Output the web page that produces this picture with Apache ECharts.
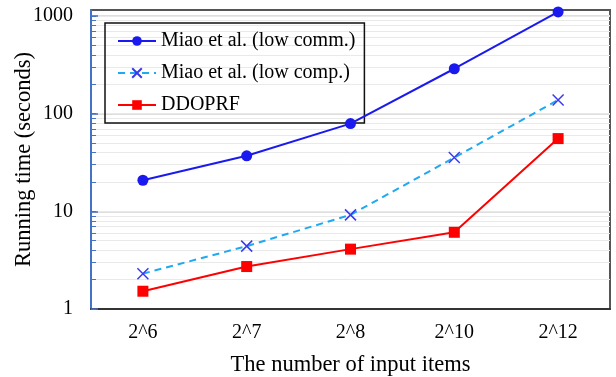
<!DOCTYPE html>
<html><head><meta charset="utf-8">
<script src="https://cdn.jsdelivr.net/npm/echarts@6/dist/echarts.min.js"></script>
<style>html,body{margin:0;padding:0;background:#fff}#c{width:616px;height:377px}</style>
</head><body><div id="c"></div>
<script>
const categories = ['2^6', '2^7', '2^8', '2^10', '2^12'];
const lowComm = [20.8, 37, 79, 288, 1100];
const lowComp = [2.3, 4.4, 9.2, 35.5, 138];
const ddoprf = [1.52, 2.72, 4.1, 6.1, 55.5];
const seriesNames = ['Miao et al. (low comm.)', 'Miao et al. (low comp.)', 'DDOPRF'];
const yMajorTicks = [1, 10, 100, 1000];
const yMinorTicks = [];
[1, 10, 100].forEach(d => { for (let k = 1; k <= 9; k++) yMinorTicks.push(d * k); });
yMinorTicks.push(1000);

const font = 'Liberation Serif, Times New Roman, serif';
const chart = echarts.init(document.getElementById('c'), null, {renderer: 'canvas'});
chart.setOption({
  animation: false,
  textStyle: {fontFamily: font},
  grid: {left: 91, right: 6, top: 10, bottom: 68, show: true, borderColor: '#555', borderWidth: 2, containLabel: false, outerBoundsMode: 'none'},
  legend: {
    orient: 'vertical', left: 105, top: 23,
    data: seriesNames,
    borderColor: '#111', borderWidth: 1.5, padding: [8, 9, 8, 12],
    itemWidth: 38, itemHeight: 12, itemGap: 12,
    textStyle: {fontFamily: font, fontSize: 20, color: '#000'}
  },
  xAxis: {
    type: 'category', data: categories, boundaryGap: true,
    name: 'The number of input items', nameLocation: 'middle', nameGap: 45,
    nameTextStyle: {fontFamily: font, fontSize: 22.5, color: '#000'},
    axisLine: {show: true, lineStyle: {color: '#333', width: 2}},
    axisTick: {show: false},
    axisLabel: {fontFamily: font, fontSize: 20, color: '#000', margin: 14},
    splitLine: {show: false}
  },
  yAxis: [{
    type: 'log', logBase: 10, min: 1, max: 1150,
    name: 'Running time (seconds)', nameLocation: 'middle', nameGap: 55, nameMoveOverlap: false,
    nameTextStyle: {fontFamily: font, fontSize: 22.5, color: '#000'},
    axisLine: {show: true, lineStyle: {color: '#4472c4', width: 2}},
    axisTick: {show: true, inside: true, length: 7, customValues: yMajorTicks, lineStyle: {color: '#4472c4', width: 1.5}},
    axisLabel: {fontFamily: font, fontSize: 20, color: '#000', margin: 18, customValues: yMajorTicks, formatter: v => String(Math.round(v))},
    splitLine: {show: true, lineStyle: {color: '#dedede', width: 2}}
  }, {
    type: 'log', logBase: 10, min: 1, max: 1150, position: 'left',
    axisLine: {show: false},
    axisTick: {show: true, inside: true, length: 5, customValues: yMinorTicks, lineStyle: {color: '#4472c4', width: 1}},
    axisLabel: {show: false},
    splitLine: {show: true, lineStyle: {color: '#e9e9e9', width: 1}}
  }],
  series: [{
    name: seriesNames[0], type: 'line', data: lowComm, yAxisIndex: 0,
    symbol: 'circle', symbolSize: 11,
    lineStyle: {color: '#1a1aef', width: 2}, itemStyle: {color: '#1a1aef'}, z: 5
  }, {
    name: seriesNames[1], type: 'line', data: lowComp, yAxisIndex: 0,
    symbol: 'path://M0,0L10,10M10,0L0,10', symbolSize: 11,
    lineStyle: {color: '#1eaaf0', width: 2, type: [7, 5]},
    itemStyle: {color: 'none', borderColor: '#3a3aef', borderWidth: 1.5}, z: 4
  }, {
    name: seriesNames[2], type: 'line', data: ddoprf, yAxisIndex: 0,
    symbol: 'rect', symbolSize: 11,
    lineStyle: {color: '#ff0000', width: 2}, itemStyle: {color: '#ff0000'}, z: 3
  }]
});
</script></body></html>
